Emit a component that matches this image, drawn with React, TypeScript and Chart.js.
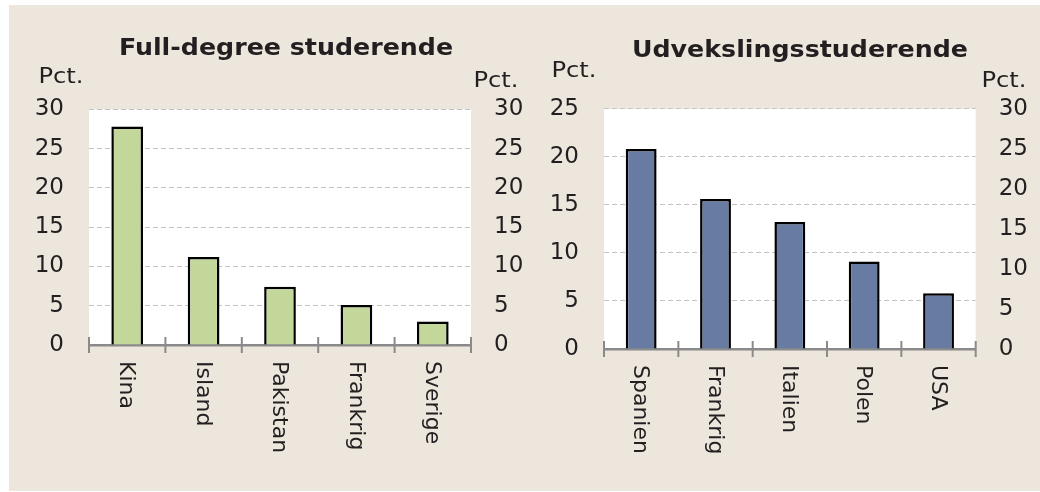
import React, { useEffect, useRef } from "react";
import { Chart, registerables } from "chart.js";

Chart.register(...registerables);

// ---- Data ----
const fullTitle = "Full-degree studerende";
const fullCategories = ["Kina", "Island", "Pakistan", "Frankrig", "Sverige"];
const fullValues = [27.8, 11.2, 7.4, 5.1, 3.0];
const fullLeftAxis = { min: 0, max: 30, step: 5 };
const fullRightAxis = { min: 0, max: 30, step: 5 };

const exchTitle = "Udvekslingsstuderende";
const exchCategories = ["Spanien", "Frankrig", "Italien", "Polen", "USA"];
const exchValues = [20.8, 15.6, 13.2, 9.1, 5.8];
const exchLeftAxis = { min: 0, max: 25, step: 5 };
const exchRightAxis = { min: 0, max: 30, step: 5 };

const unitLabel = "Pct.";

// ---- Styles ----
const FONT = '"DejaVu Sans", Verdana, sans-serif';
const TEXT = "#231f20";
const AXIS = "#8a8a8a";
const GRID = "#c4c4c4";
const GREEN = "#c4d79b";
const BLUE = "#687ba3";
const BEIGE = "#ede6dd";

function drawStretched(ctx: CanvasRenderingContext2D, text: string, cx: number, by: number, font: string) {
  ctx.save();
  ctx.translate(cx, by);
  ctx.scale(1.1, 1);
  ctx.font = font;
  ctx.fillStyle = TEXT;
  ctx.textAlign = "center";
  ctx.textBaseline = "alphabetic";
  ctx.fillText(text, 0, 0);
  ctx.restore();
}

const decorPlugin = {
  id: "decor",
  beforeDraw(chart: any) {
    const { ctx, chartArea: a } = chart;
    ctx.save();
    ctx.fillStyle = "#ffffff";
    ctx.fillRect(a.left, a.top, a.right - a.left, a.bottom - a.top);
    ctx.restore();
  },
  afterDraw(chart: any, _args: any, opts: any) {
    const { ctx, chartArea: a } = chart;
    const xs = chart.scales.x;
    const n = opts.labels.length;
    ctx.save();
    // category boundary tick marks crossing the axis
    ctx.strokeStyle = AXIS;
    ctx.lineWidth = 2;
    for (let i = 0; i <= n; i++) {
      const x = xs.left + ((xs.right - xs.left) * i) / n;
      ctx.beginPath();
      ctx.moveTo(x, a.bottom - 8);
      ctx.lineTo(x, a.bottom + 8);
      ctx.stroke();
    }
    // rotated category labels (top-to-bottom)
    ctx.fillStyle = TEXT;
    ctx.font = `22px ${FONT}`;
    opts.labels.forEach((lab: string, i: number) => {
      const x = xs.getPixelForValue(i);
      ctx.save();
      ctx.translate(x - 1, a.bottom + 16);
      ctx.rotate(Math.PI / 2);
      ctx.textAlign = "left";
      ctx.textBaseline = "middle";
      ctx.fillText(lab, 0, 0);
      ctx.restore();
    });
    ctx.restore();
    // title and unit labels
    drawStretched(ctx, opts.title, opts.titleX, opts.titleY, `bold 23px ${FONT}`);
    drawStretched(ctx, unitLabel, opts.pctLeftX, opts.pctLeftY, `22px ${FONT}`);
    drawStretched(ctx, unitLabel, opts.pctRightX, opts.pctRightY, `22px ${FONT}`);
  },
};

type Cfg = {
  labels: string[];
  values: number[];
  color: string;
  left: { min: number; max: number; step: number };
  right: { min: number; max: number; step: number };
  leftW: number;
  rightW: number;
  top: number;
  bottomH: number;
  decor: any;
};

function makeChart(canvas: HTMLCanvasElement, c: Cfg) {
  const tickFont = { family: FONT, size: 23 };
  return new Chart(canvas, {
    type: "bar",
    data: {
      labels: c.labels,
      datasets: [
        {
          data: c.values,
          backgroundColor: c.color,
          borderColor: "#000000",
          borderWidth: 2.5,
          barPercentage: 0.415,
          categoryPercentage: 1,
          yAxisID: "y",
        },
      ],
    },
    options: {
      responsive: false,
      animation: false,
      layout: { padding: { top: c.top, left: 0, right: 0, bottom: 0 } },
      scales: {
        x: {
          grid: { display: false, drawTicks: false },
          ticks: { display: false },
          border: { display: true, color: AXIS, width: 2.5 },
          afterFit: (s: any) => {
            s.height = c.bottomH;
          },
        },
        y: {
          position: "left",
          min: c.left.min,
          max: c.left.max,
          ticks: { stepSize: c.left.step, font: tickFont, color: TEXT, padding: 25 },
          grid: { color: GRID, lineWidth: 1, drawTicks: false, tickLength: 0 },
          border: { display: false, dash: [5, 3] },
          afterFit: (s: any) => {
            s.width = c.leftW;
          },
        },
        y2: {
          position: "right",
          min: c.right.min,
          max: c.right.max,
          ticks: { stepSize: c.right.step, font: tickFont, color: TEXT, padding: 23 },
          grid: { display: false, drawTicks: false, tickLength: 0 },
          border: { display: false },
          afterFit: (s: any) => {
            s.width = c.rightW;
          },
        },
      },
      plugins: {
        legend: { display: false },
        tooltip: { enabled: false },
        title: { display: false },
        decor: c.decor,
      } as any,
    },
    plugins: [decorPlugin],
  });
}

export default function App() {
  const leftRef = useRef<HTMLCanvasElement>(null);
  const rightRef = useRef<HTMLCanvasElement>(null);

  useEffect(() => {
    const a = makeChart(leftRef.current!, {
      labels: fullCategories,
      values: fullValues,
      color: GREEN,
      left: fullLeftAxis,
      right: fullRightAxis,
      leftW: 89,
      rightW: 69,
      top: 109.3,
      bottomH: 147,
      decor: {
        labels: fullCategories,
        title: fullTitle,
        titleX: 286,
        titleY: 55,
        pctLeftX: 61,
        pctLeftY: 82.7,
        pctRightX: 496,
        pctRightY: 86.7,
      },
    });
    const b = makeChart(rightRef.current!, {
      labels: exchCategories,
      values: exchValues,
      color: BLUE,
      left: exchLeftAxis,
      right: exchRightAxis,
      leftW: 64,
      rightW: 64.3,
      top: 108.7,
      bottomH: 143,
      decor: {
        labels: exchCategories,
        title: exchTitle,
        titleX: 260,
        titleY: 56.7,
        pctLeftX: 34,
        pctLeftY: 76.7,
        pctRightX: 464,
        pctRightY: 86.7,
      },
    });
    return () => {
      a.destroy();
      b.destroy();
    };
  }, []);

  return (
    <div style={{ position: "fixed", left: 0, top: 0, width: 1040, height: 492, background: "#ffffff", overflow: "hidden" }}>
      <div style={{ position: "absolute", left: 9, top: 5, width: 1031, height: 486, background: BEIGE }} />
      <canvas ref={leftRef} width={540} height={492} style={{ position: "absolute", left: 0, top: 0 }} />
      <canvas ref={rightRef} width={500} height={492} style={{ position: "absolute", left: 540, top: 0 }} />
    </div>
  );
}
